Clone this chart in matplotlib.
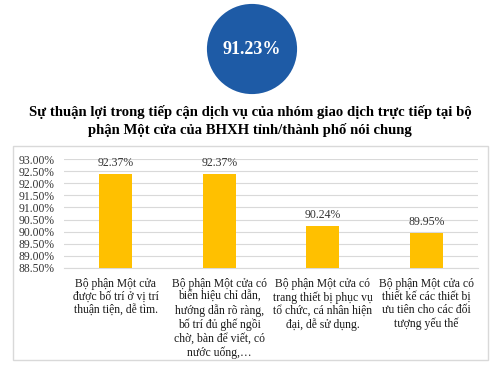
import matplotlib
matplotlib.use("Agg")
import matplotlib.pyplot as plt
from matplotlib.patches import Circle, Rectangle

categories = [
    "Bộ phận Một cửa\nđược bố trí ở vị trí\nthuận tiện, dễ tìm.",
    "Bộ phận Một cửa có\nbiển hiệu chỉ dẫn,\nhướng dẫn rõ ràng,\nbố trí đủ ghế ngồi\nchờ, bàn để viết, có\nnước uống,…",
    "Bộ phận Một cửa có\ntrang thiết bị phục vụ\ntổ chức, cá nhân hiện\nđại, dễ sử dụng.",
    "Bộ phận Một cửa có\nthiết kế các thiết bị\nưu tiên cho các đối\ntượng yếu thế",
]
values = [92.37, 92.37, 90.24, 89.95]
overall = 91.23
yticks = [88.5, 89.0, 89.5, 90.0, 90.5, 91.0, 91.5, 92.0, 92.5, 93.0]
title = ("Sự thuận lợi trong tiếp cận dịch vụ của nhóm giao dịch trực tiếp tại bộ\n"
         "phận Một cửa của BHXH tỉnh/thành phố nói chung")

plt.rcParams['font.family'] = ['Liberation Serif', 'DejaVu Serif']

W, H = 500, 367
fig = plt.figure(figsize=(W / 100, H / 100), dpi=100)
fig.patch.set_facecolor('white')

# chart frame
fig.patches.append(Rectangle((13 / W, 1 - 360 / H), 475 / W, 214 / H,
                             transform=fig.transFigure, facecolor='white',
                             edgecolor='#D9D9D9', linewidth=1.0, zorder=-5))

# circle
cax = fig.add_axes([(252 - 46) / W, 1 - (49 + 46) / H, 92 / W, 92 / H])
cax.set_xlim(-1, 1)
cax.set_ylim(-1, 1)
cax.set_aspect('equal')
cax.axis('off')
cax.add_patch(Circle((0, 0), 0.98, facecolor='#1E5BA6', edgecolor='none'))
cax.text(0, 0, f"{overall:.2f}%", ha='center', va='center', color='white',
         fontsize=13, fontweight='bold')

fig.text(0.5, 1 - 121 / H, title, ha='center', va='center', fontsize=10.6,
         fontweight='bold', linespacing=1.45)

ax = fig.add_axes([64 / W, 1 - 268 / H, 414 / W, 109 / H])
x = list(range(len(values)))
ax.bar(x, [v - 88.5 for v in values], bottom=88.5, width=0.32,
       color='#FFC000', zorder=3)
for xi, v in zip(x, values):
    ax.text(xi, v + 0.22, f"{v:.2f}%", ha='center', va='bottom', fontsize=8.5,
            color='#333333')
ax.set_ylim(88.5, 93.0)
ax.set_xlim(-0.5, len(values) - 0.5)
ax.set_yticks(yticks)
ax.set_yticklabels([f"{t:.2f}%" for t in yticks], fontsize=8.4, color='#333333')
ax.set_xticks(x)
ax.set_xticklabels(categories, fontsize=8.4, color='#1a1a1a', linespacing=1.15,
                   va='top')
ax.tick_params(axis='both', length=0)
ax.tick_params(axis='y', pad=7)
ax.tick_params(axis='x', pad=7)
ax.grid(axis='y', color='#D9D9D9', linewidth=0.8, zorder=0)
for s in ['top', 'right', 'left']:
    ax.spines[s].set_visible(False)
ax.spines['bottom'].set_color('#D9D9D9')
ax.set_facecolor('none')

fig.savefig('out.png', dpi=100)
